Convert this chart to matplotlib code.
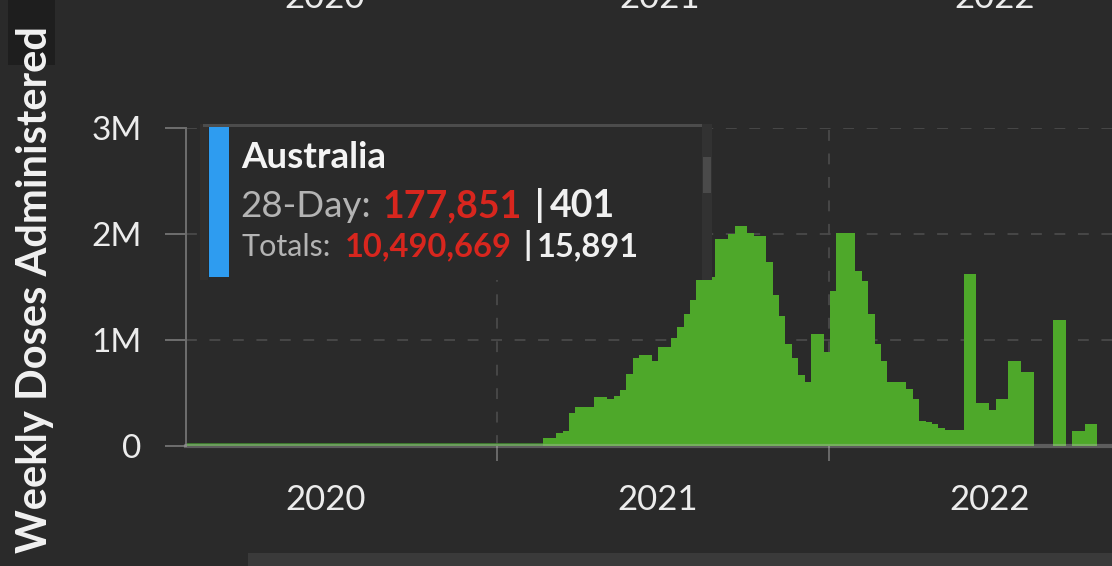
import matplotlib
matplotlib.use('Agg')
import matplotlib.pyplot as plt
import matplotlib.dates as mdates
from matplotlib.patches import Rectangle
from matplotlib.ticker import FuncFormatter, FixedLocator
import pandas as pd

plt.rcParams['font.family'] = ['Lato', 'DejaVu Sans']

# weekly doses administered (millions), one value per week from the first vaccine week
vax_start = '2021-02-21'
doses_m = [0.08, 0.08, 0.12, 0.14, 0.31, 0.37, 0.37, 0.37, 0.46, 0.46,
           0.44, 0.47, 0.53, 0.68, 0.83, 0.86, 0.86, 0.80, 0.93, 0.93,
           1.02, 1.12, 1.25, 1.38, 1.59, 1.59, 1.59, 1.95, 1.95, 2.00,
           2.08, 2.08, 2.01, 1.98, 1.98, 1.74, 1.42, 1.23, 0.96, 0.83,
           0.67, 0.60, 1.06, 1.06, 0.89, 1.46, 2.01, 2.01, 2.01, 1.65,
           1.56, 1.25, 0.96, 0.80, 0.60, 0.60, 0.60, 0.54, 0.44, 0.24,
           0.23, 0.21, 0.17, 0.15, 0.15, 0.15, 1.62, 1.62, 0.41, 0.41,
           0.34, 0.44, 0.44, 0.80, 0.80, 0.70, 0.70, 0.0, 0.0, 0.0,
           1.19, 1.19, 0.0, 0.14, 0.14, 0.21, 0.21]
# weeks reported with zero doses before the rollout
zero_start = '2020-01-26'

year_starts = ['2021-01-01', '2022-01-01']
year_labels = ['2020', '2021', '2022']
year_mids = ['2020-06-27', '2021-06-27', '2022-06-27']
y_ticks = [0, 1e6, 2e6, 3e6]
x_range = ['2020-01-25', '2022-11-08']

country = 'Australia'
day28 = ['177,851', '401']
totals = ['10,490,669', '15,891']

BG = '#2a2a2a'
GREEN = '#4ea82a'
W, H = 1112, 566


def fx(x):
    return x / W


def fy(y):
    return 1 - y / H


fig = plt.figure(figsize=(W / 100, H / 100), dpi=100, facecolor=BG)
ax = fig.add_axes([fx(186), fy(446), 1 - fx(186), fy(128) - fy(446)])
ax.set_facecolor(BG)

weeks = pd.date_range(vax_start, periods=len(doses_m), freq='7D')
ax.bar(weeks, [d * 1e6 for d in doses_m], width=7, align='edge',
       color=GREEN, linewidth=0, zorder=2)
ax.hlines(0, pd.Timestamp(zero_start), pd.Timestamp(vax_start),
          color='#3f8a2a', lw=4, zorder=2.2)

ax.set_xlim(pd.Timestamp(x_range[0]), pd.Timestamp(x_range[1]))
ax.set_ylim(0, 3e6)

# y axis
ax.set_yticks(y_ticks)
ax.yaxis.set_major_formatter(FuncFormatter(
    lambda v, p: '0' if v == 0 else '%dM' % (v / 1e6)))
ax.tick_params(axis='y', length=15, width=1.4, color='#6e6e6e', pad=17,
               labelsize=24, labelcolor='#ececec')
for v in y_ticks[1:]:
    ax.axhline(v, color='#4a4a4a', lw=1.3, ls=(0, (6, 7)), zorder=1)

# x axis: ticks at year boundaries, labels centred on each year
ax.xaxis.set_major_locator(FixedLocator(
    [mdates.date2num(pd.Timestamp(d)) for d in year_starts]))
ax.xaxis.set_major_formatter(FuncFormatter(lambda v, p: ''))
ax.xaxis.set_minor_locator(FixedLocator(
    [mdates.date2num(pd.Timestamp(d)) for d in year_mids]))
ax.xaxis.set_minor_formatter(FuncFormatter(
    lambda v, p: year_labels[p] if p is not None and p < len(year_labels) else ''))
ax.tick_params(axis='x', which='major', length=11, width=1.3, color='#6e6e6e')
ax.tick_params(axis='x', which='minor', length=0, pad=27,
               labelsize=25, labelcolor='#ececec')
for d in year_starts:
    ax.axvline(pd.Timestamp(d), color='#4a4a4a', lw=1.3, ls=(0, (6, 7)), zorder=1)

for s in ['top', 'right']:
    ax.spines[s].set_visible(False)
ax.spines['left'].set_color('#6e6e6e')
ax.spines['left'].set_linewidth(1.4)
ax.spines['bottom'].set_color((0.75, 0.75, 0.75, 0.35))
ax.spines['bottom'].set_linewidth(3)
ax.spines['bottom'].set_zorder(3)

# dark box behind the top of the axis title
fig.add_artist(Rectangle((fx(8), fy(65)), fx(47), 65 / H, transform=fig.transFigure,
                         facecolor='#1e1e1e', edgecolor='none', zorder=1))
fig.text(fx(35), fy(290), 'Weekly Doses Administered', rotation=90,
         ha='center', va='center', fontsize=30, fontweight='bold', color='#f2f2f2')

# year labels of the chart above, cut off by the top edge (as in the screenshot)
for lab, x in zip(year_labels, [325, 660, 995]):
    fig.text(fx(x), fy(8), lab, ha='center', va='baseline', fontsize=25,
             color='#ececec')

# scroll strip at the bottom
fig.add_artist(Rectangle((fx(248), 0), 1 - fx(248), 13 / H, transform=fig.transFigure,
                         facecolor='#3a3a3a', edgecolor='none', zorder=1))

# tooltip
fig.add_artist(Rectangle((fx(200), fy(280)), fx(512), 156 / H, transform=fig.transFigure,
                         facecolor=BG, edgecolor='none', zorder=1))
fig.add_artist(Rectangle((fx(200), fy(280)), fx(8), 156 / H, transform=fig.transFigure,
                         facecolor='#322f2d', edgecolor='none', zorder=1.1))
fig.add_artist(Rectangle((fx(203), fy(127)), fx(509), 3 / H, transform=fig.transFigure,
                         facecolor='#4c4c4c', edgecolor='none', zorder=1.1))
fig.add_artist(Rectangle((fx(702), fy(280)), fx(10), 156 / H, transform=fig.transFigure,
                         facecolor='#323232', edgecolor='none', zorder=1.1))
fig.add_artist(Rectangle((fx(703), fy(193)), fx(8), 36 / H, transform=fig.transFigure,
                         facecolor='#4a4a4a', edgecolor='none', zorder=1.2))
fig.add_artist(Rectangle((fx(209), fy(277)), fx(20), 150 / H, transform=fig.transFigure,
                         facecolor='#2e9cf0', edgecolor='none', zorder=1.2))

fig.text(fx(241), fy(168), country, ha='left', va='baseline', fontsize=26.5,
         fontweight='bold', color='#f4f4f4')
fig.text(fx(240), fy(217), '28-Day:', ha='left', va='baseline', fontsize=26.5,
         color='#b4b4b4')
fig.text(fx(383), fy(217), day28[0], ha='left', va='baseline', fontsize=27,
         fontweight='bold', color='#d8261e')
fig.text(fx(535), fy(217), '|', ha='left', va='baseline', fontsize=26,
         fontweight='bold', color='#f0f0f0')
fig.text(fx(550), fy(217), day28[1], ha='left', va='baseline', fontsize=27,
         fontweight='bold', color='#f0f0f0')
fig.text(fx(241), fy(256), 'Totals:', ha='left', va='baseline', fontsize=22,
         color='#b4b4b4')
fig.text(fx(345), fy(256), totals[0], ha='left', va='baseline', fontsize=23.5,
         fontweight='bold', color='#d8261e')
fig.text(fx(523), fy(256), '|', ha='left', va='baseline', fontsize=23,
         fontweight='bold', color='#f0f0f0')
fig.text(fx(537), fy(256), totals[1], ha='left', va='baseline', fontsize=23.5,
         fontweight='bold', color='#f0f0f0')

fig.savefig('out.png', dpi=100, facecolor=BG)
